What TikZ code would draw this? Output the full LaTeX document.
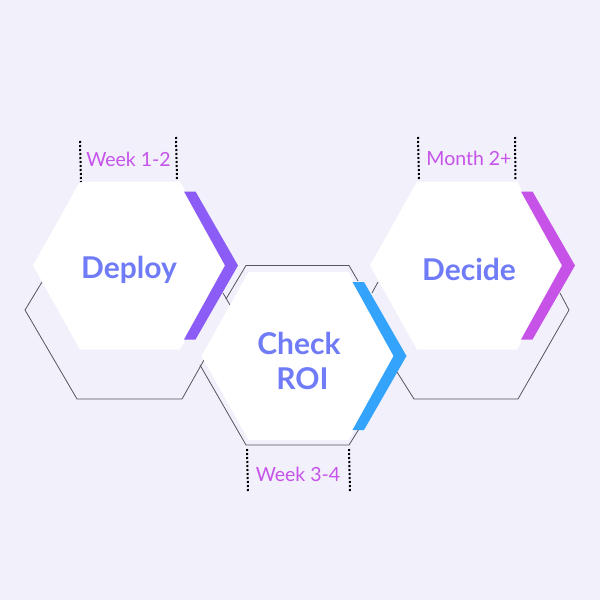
\documentclass[tikz,border=0pt]{standalone}
\usepackage{fontspec}
\setmainfont{Lato}
\definecolor{pagebg}{HTML}{F1F0FB}
\definecolor{titleblue}{HTML}{6F7BF7}
\definecolor{weekpink}{HTML}{C653EA}
\definecolor{deploypurple}{HTML}{8B5CF6}
\definecolor{checkblue}{HTML}{33A3FC}
\definecolor{decidepink}{HTML}{C652E8}
\definecolor{outlinegray}{HTML}{55555F}
\tikzstyle{title}=[text=titleblue, font=\fontsize{30}{35}\selectfont\bfseries, align=center, inner sep=0]
\tikzstyle{week}=[text=weekpink, font=\fontsize{19.5}{22}\selectfont, inner sep=0]
\tikzstyle{edge}=[draw=outlinegray, line width=0.8pt]
\tikzstyle{tick}=[draw=black, line width=2pt, dash pattern=on 2pt off 2pt]

\begin{document}
\begin{tikzpicture}[x=1pt,y=-1pt]
                \useasboundingbox[fill=pagebg] (0,0) rectangle (600,600);
                % outlines behind the cells
                \draw[edge] (42,282) -- (25,310) -- (77,399) -- (182,399) -- (204,360);
                \draw[edge] (223,293) -- (230,305);
                \draw[edge] (378,282) -- (372,293);
                \draw[edge] (560,293) -- (569,310) -- (518,399) -- (414,399) -- (397,372);
                \draw[edge] (226,299) -- (246,265.5) -- (349,265.5) -- (358,281);
                \draw[edge] (200,365) -- (246,445) -- (349,445) -- (359,429);
                % cells: left vertex x / centre y / chevron colour
                \foreach \x/\y/\col in {33/265.5/deploypurple, 201.5/356/checkblue, 370/265.5/decidepink} {
                    \fill[white] (\x,\y) -- ++(47,-84) -- ++(100,0) -- ++(47,84) -- ++(-47,84) -- ++(-100,0) -- cycle;
                    \fill[\col] (\x+151,\y-74) -- ++(11.5,0) -- (\x+205,\y) -- (\x+162.5,\y+74) -- ++(-11.5,0) -- (\x+192,\y) -- cycle;
                }
                \node[title] (deploy) at (129,269.5) {Deploy};
                \node[title] (check) at (299,360.5) {Check\\\hspace*{7pt}ROI};
                \node[title] (decide) at (469,269) {Decide};
                \node[week] (week12) at (128.5,159) {Week 1-2};
                \node[week] (week34) at (298,474) {Week 3-4};
                \node[week] (month2) at (469,158.5) {Month 2+};
                % dotted ticks
                \draw[tick] (80,141) -- (81,182);
                \draw[tick] (176,137) -- (177,180);
                \draw[tick] (247,449) -- (248,492);
                \draw[tick] (349,449) -- (350,492);
                \draw[tick] (418,137) -- (419,180);
                \draw[tick] (515,137) -- (515.5,180);
            \end{tikzpicture}
\end{document}
